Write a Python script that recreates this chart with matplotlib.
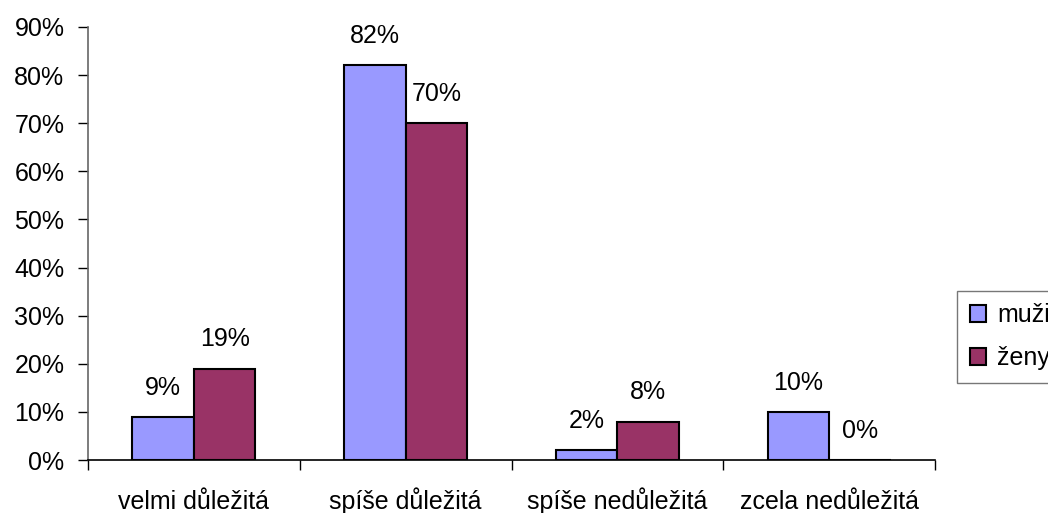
import matplotlib
matplotlib.use("Agg")
import matplotlib.pyplot as plt
import numpy as np

categories = ["velmi důležitá", "spíše důležitá", "spíše nedůležitá", "zcela nedůležitá"]
series_names = ["muži", "ženy"]
muzi = [9, 82, 2, 10]
zeny = [19, 70, 8, 0]
y_ticks = [0, 10, 20, 30, 40, 50, 60, 70, 80, 90]

plt.rcParams["font.family"] = ["Liberation Sans", "DejaVu Sans"]
FS = 18

W, H = 1048, 513
fig = plt.figure(figsize=(W / 100, H / 100), dpi=100)
ax = fig.add_axes([88 / W, 1 - 460 / H, (935 - 88) / W, (460 - 27) / H])

x = np.arange(len(categories))
bw = 0.29
colors = ["#9999FF", "#993366"]
for k, (vals, name) in enumerate(zip([muzi, zeny], series_names)):
    xs = x + (k - 0.5) * bw
    ax.bar(xs, vals, width=bw, color=colors[k], edgecolor="black",
           linewidth=1.5, label=name, zorder=3)
    for xi, v in zip(xs, vals):
        ax.annotate(f"{v}%", (xi, v), xytext=(0, 21), textcoords="offset points",
                    ha="center", va="center", fontsize=FS)

ax.set_xlim(-0.5, len(categories) - 0.5)
ax.set_ylim(0, 90)
ax.set_yticks(y_ticks)
ax.set_yticklabels([f"{t}%" for t in y_ticks], fontsize=FS)
ax.set_xticks(np.arange(len(categories) + 1) - 0.5)
ax.set_xticklabels([])
ax.set_xticks(x, minor=True)
ax.set_xticklabels(categories, minor=True, fontsize=FS)
for lbl in ax.get_xticklabels(minor=True):
    lbl.set_verticalalignment("baseline")
ax.tick_params(axis="x", which="minor", length=0, pad=35)
ax.tick_params(axis="x", which="major", direction="out", length=7, width=1, color="black")
ax.tick_params(axis="y", direction="out", length=7, width=1, color="black", pad=10)

for s in ["top", "right"]:
    ax.spines[s].set_visible(False)
ax.spines["left"].set_color("#666666")
ax.spines["left"].set_linewidth(1.2)
ax.spines["bottom"].set_color("black")
ax.spines["bottom"].set_linewidth(1.2)

leg = fig.legend(loc="upper left", bbox_to_anchor=(957 / W, 1 - 291 / H),
                 fontsize=FS, frameon=True, fancybox=False, handlelength=0.65,
                 handleheight=0.65, handletextpad=0.45, borderpad=0.5,
                 labelspacing=0.75, borderaxespad=0)
leg.get_frame().set_edgecolor("#555555")
leg.get_frame().set_linewidth(1.0)

fig.savefig("out.png", dpi=100)
